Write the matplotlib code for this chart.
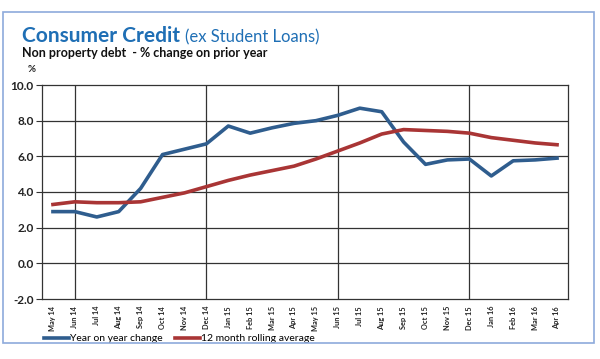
import matplotlib.pyplot as plt
from matplotlib.patches import Rectangle

plt.rcParams['font.family'] = ['Lato', 'DejaVu Sans']

months = ['May 14', 'Jun 14', 'Jul 14', 'Aug 14', 'Sep 14', 'Oct 14', 'Nov 14', 'Dec 14',
          'Jan 15', 'Feb 15', 'Mar 15', 'Apr 15', 'May 15', 'Jun 15', 'Jul 15', 'Aug 15',
          'Sep 15', 'Oct 15', 'Nov 15', 'Dec 15', 'Jan 16', 'Feb 16', 'Mar 16', 'Apr 16']

yoy = [2.9, 2.9, 2.6, 2.9, 4.2, 6.1, 6.4, 6.7, 7.7, 7.3, 7.6, 7.85,
       8.0, 8.3, 8.7, 8.5, 6.8, 5.55, 5.8, 5.85, 4.9, 5.75, 5.8, 5.9]

rolling = [3.3, 3.45, 3.4, 3.4, 3.45, 3.7, 3.95, 4.3, 4.65, 4.95, 5.2, 5.45,
           5.85, 6.3, 6.75, 7.25, 7.5, 7.45, 7.4, 7.3, 7.05, 6.9, 6.75, 6.65]

yticks = [-2.0, 0.0, 2.0, 4.0, 6.0, 8.0, 10.0]
vgrid_months = ['Jun 14', 'Dec 14', 'Jun 15', 'Dec 15']

blue = '#2f5d8e'
red = '#a93535'

fig = plt.figure(figsize=(6, 3.59), dpi=100)

# outer light blue frame
fig.patches.append(Rectangle((3 / 600, 1 - 343 / 359), 591 / 600, 331 / 359,
                             transform=fig.transFigure, fill=False,
                             edgecolor='#8eaadb', linewidth=1.2))

ax = fig.add_axes([42 / 600, 1 - 299 / 359, 526 / 600, 214 / 359])

x = list(range(len(months)))
ax.plot(x, yoy, color=blue, linewidth=2.6, label='Year on year change', zorder=3)
ax.plot(x, rolling, color=red, linewidth=2.6, label='12 month rolling average', zorder=3)

ax.set_xlim(-0.5, len(months) - 0.5)
ax.set_ylim(-2, 10)
ax.set_yticks(yticks)
ax.set_yticklabels([f'{v:.1f}' for v in yticks], fontsize=8.5, fontweight='bold', color='#222222')
ax.set_xticks(x)
ax.set_xticklabels(months, rotation=90, fontsize=5.3, fontweight='bold', color='#222222')
ax.tick_params(axis='x', length=0, pad=5)
ax.tick_params(axis='y', length=4, width=0.8, color='#333333', pad=2)

for v in yticks[1:-1]:
    ax.axhline(v, color='#333333', linewidth=0.9, zorder=1)
for m in vgrid_months:
    ax.axvline(months.index(m), color='#333333', linewidth=0.9, zorder=1)
for s in ax.spines.values():
    s.set_color('#333333')
    s.set_linewidth(0.9)

fig.text(22 / 600, 1 - 36 / 359, 'Consumer Credit', fontsize=15, fontweight='bold',
         color='#1f6fb5', va='center')
fig.text(185 / 600, 1 - 37 / 359, '(ex Student Loans)', fontsize=12,
         color='#1f6fb5', va='center')
fig.text(22 / 600, 1 - 53 / 359, 'Non property debt  - % change on prior year', fontsize=9,
         fontweight='bold', color='#111111', va='center')
fig.text(28 / 600, 1 - 69 / 359, '%', fontsize=7, fontweight='bold', color='#222222', va='center')

ax.legend(loc='center left', bbox_to_anchor=(0.004, -0.185), ncol=2, frameon=False,
          fontsize=7.5, handlelength=2.4, handletextpad=0.1, columnspacing=1.2,
          borderaxespad=0, borderpad=0)

fig.savefig('out.png', dpi=100)
